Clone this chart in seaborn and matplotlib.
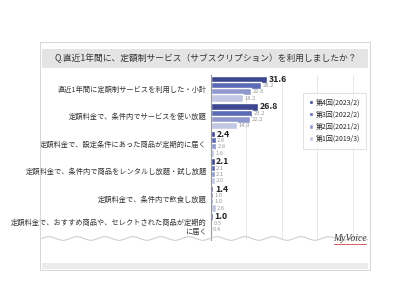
import numpy as np
import pandas as pd
import matplotlib.pyplot as plt
from matplotlib.lines import Line2D
from matplotlib.patches import Rectangle
import seaborn as sns

sns.set_theme(style="white")
plt.rcParams['font.family'] = ['Noto Sans CJK JP', 'DejaVu Sans']

# データ
items = [
    "直近1年間に定額制サービスを利用した・小計",
    "定額料金で、条件内でサービスを使い放題",
    "定額料金で、設定条件にあった商品が定期的に届く",
    "定額料金で、条件内で商品をレンタルし放題・試し放題",
    "定額料金で、条件内で飲食し放題",
    "定額料金で、おすすめ商品や、セレクトされた商品が定期的\nに届く",
]
surveys = ["第4回(2023/2)", "第3回(2022/2)", "第2回(2021/2)", "第1回(2019/3)"]
v4 = [31.6, 26.8, 2.4, 2.1, 1.4, 1.0]
v3 = [28.2, 23.2, 2.6, 2.1, 1.0, 0.5]
v2 = [22.6, 22.2, 2.8, 2.1, 1.0, 0.4]
v1 = [18.2, 14.9, 1.6, 2.0, 2.6, np.nan]
colors = ["#2f3e9e", "#4c61c4", "#8492d8", "#bcc4ea"]

rows = []
for s, vals in zip(surveys, [v4, v3, v2, v1]):
    for it, v in zip(items, vals):
        rows.append({"item": it, "survey": s, "value": v})
df = pd.DataFrame(rows)

fig = plt.figure(figsize=(4, 3), dpi=100)

# 外枠とタイトル帯
fig.add_artist(Rectangle((0.1, 0.1), 0.825, 0.76, transform=fig.transFigure,
                         fill=False, edgecolor="#d0d0d0", linewidth=0.6))
fig.add_artist(Rectangle((0.105, 0.775), 0.815, 0.062, transform=fig.transFigure,
                         facecolor="#e4e4e4", edgecolor="none"))
fig.text(0.515, 0.806, "Q.直近1年間に、定額制サービス（サブスクリプション）を利用しましたか？",
         ha="center", va="center", fontsize=6.3, color="#333333")
fig.add_artist(Rectangle((0.105, 0.105), 0.815, 0.02, transform=fig.transFigure,
                         facecolor="#ebebeb", edgecolor="none"))

ax = fig.add_axes([0.5275, 0.2, 0.385, 0.55])
sns.barplot(data=df, x="value", y="item", hue="survey", orient="h",
            palette=colors, width=0.9, gap=-0.15, ax=ax, legend=True)

ax.set_xlim(0, 87)
ax.set_xlabel("")
ax.set_ylabel("")
ax.set_xticks([])
ax.tick_params(axis="y", length=0, pad=3)
for lab in ax.get_yticklabels():
    lab.set_fontsize(5.2)
    lab.set_color("#333333")
for x in [20, 40, 60, 80]:
    ax.axvline(x, color="#bbbbbb", linestyle=(0, (1, 1.5)), linewidth=0.6, zorder=0)
for side in ["top", "right", "bottom"]:
    ax.spines[side].set_visible(False)
ax.spines["left"].set_color("#999999")
ax.spines["left"].set_linewidth(0.8)

for i, cont in enumerate(ax.containers):
    labels = ["" if np.isnan(v) else f"{v:.1f}" for v in cont.datavalues]
    if i == 0:
        ax.bar_label(cont, labels=labels, padding=1, fontsize=6.3,
                     color="#222222", fontweight="bold")
    else:
        ax.bar_label(cont, labels=labels, padding=1, fontsize=4.2, color="#999999")

leg = ax.legend(loc="upper left", bbox_to_anchor=(0.59, 0.9), fontsize=5,
                frameon=True, handlelength=0.6, handleheight=0.6,
                handletextpad=0.4, labelspacing=0.6, borderpad=0.5)
leg.get_frame().set_edgecolor("#cccccc")
leg.get_frame().set_linewidth(0.5)
leg.get_frame().set_boxstyle("square")

# 省略の波線
wx = np.linspace(0.105, 0.92, 400)
wy = 0.205 + 0.006 * np.sin((wx - 0.105) * 2 * np.pi / 0.07)
fig.add_artist(Line2D(wx, wy, transform=fig.transFigure, color="#c8c8c8", linewidth=0.7))

fig.text(0.875, 0.205, "MyVoice", ha="center", va="center", fontsize=7,
         style="italic", family="Liberation Serif", color="#333333")
fig.add_artist(Line2D([0.835, 0.915], [0.187, 0.187], transform=fig.transFigure,
                      color="#d04040", linewidth=0.6))

fig.savefig("out.png", dpi=100)
